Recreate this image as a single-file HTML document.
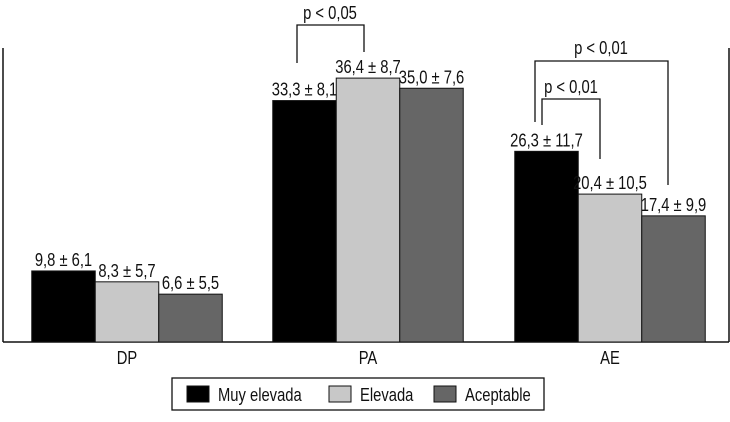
<!DOCTYPE html>
<html><head><meta charset="utf-8"><style>
body{margin:0;background:#fff}
svg text{font-family:"Liberation Sans",sans-serif;font-size:18px;fill:#111}
</style></head><body>
<svg width="730" height="417" id="chart">
<g stroke="#111" stroke-width="1.5">
<line x1="3" y1="48" x2="3" y2="342"/><line x1="729" y1="48" x2="729" y2="342"/><line x1="3" y1="342" x2="729" y2="342"/>
</g>
<g id="bars"></g>
<g fill="none" stroke="#111" stroke-width="1.3">
<polyline points="297,63 297,25 364,25 364,52"/>
<polyline points="535,122 535,61 668,61 668,185"/>
<polyline points="542,125 542,99 600,99 600,159"/>
</g>
<text x="330" y="19" text-anchor="middle">p &lt; 0,05</text>
<text x="601" y="54" text-anchor="middle">p &lt; 0,01</text>
<text x="571" y="93" text-anchor="middle">p &lt; 0,01</text>
<g>
<rect x="172" y="378" width="372" height="32" fill="#fff" stroke="#111" stroke-width="1.3"/>
<rect x="187" y="386" width="22" height="16" fill="#000" stroke="#111"/>
<text x="218" y="401">Muy elevada</text>
<rect x="329" y="386" width="22" height="16" fill="#c8c8c8" stroke="#111"/>
<text x="360" y="401">Elevada</text>
<rect x="434" y="386" width="22" height="16" fill="#666" stroke="#111"/>
<text x="465" y="401">Aceptable</text>
</g>
</svg>
<script>
const categories=["DP","PA","AE"];
const muyElevada=[9.8,33.3,26.3];
const elevada=[8.3,36.4,20.4];
const aceptable=[6.6,35.0,17.4];
const sdMuy=["6,1","8,1","11,7"];
const sdElev=["5,7","8,7","10,5"];
const sdAcep=["5,5","7,6","9,9"];
const ns="http://www.w3.org/2000/svg";
const g=document.getElementById('bars');
const base=342,scale=7.25,bw=63.5;
const centers=[127,368,610];
function y(v){return base-v*scale;}
function fmt(v){return v.toFixed(1).replace('.',',');}
const series=[[muyElevada,sdMuy,"#000"],[elevada,sdElev,"#c8c8c8"],[aceptable,sdAcep,"#666"]];
categories.forEach((c,i)=>{
  series.forEach((s,j)=>{
    const x=centers[i]-1.5*bw+j*bw;
    const r=document.createElementNS(ns,'rect');
    
    
    r.setAttribute('x',x);r.setAttribute('y',y(s[0][i]));
    r.setAttribute('width',bw);r.setAttribute('height',s[0][i]*scale);
    r.setAttribute('fill',s[2]);r.setAttribute('stroke','#111');r.setAttribute('stroke-width','1');
    g.appendChild(r);
    const t=document.createElementNS(ns,'text');
    
    
    t.setAttribute('x',x+bw/2);t.setAttribute('y',y(s[0][i])-5);
    t.setAttribute('text-anchor','middle');
    t.textContent=fmt(s[0][i])+' ± '+s[1][i];
    g.appendChild(t);
  });
  const l=document.createElementNS(ns,'text');
  
  
  l.setAttribute('x',centers[i]);l.setAttribute('y',364);
  l.setAttribute('text-anchor','middle');
  l.textContent=c;
  g.appendChild(l);
});
document.querySelectorAll('#chart text').forEach(t=>{
  const w=t.getComputedTextLength();
  t.setAttribute('textLength',(w*0.82).toFixed(1));
  t.setAttribute('lengthAdjust','spacingAndGlyphs');
});
</script>
</body></html>
